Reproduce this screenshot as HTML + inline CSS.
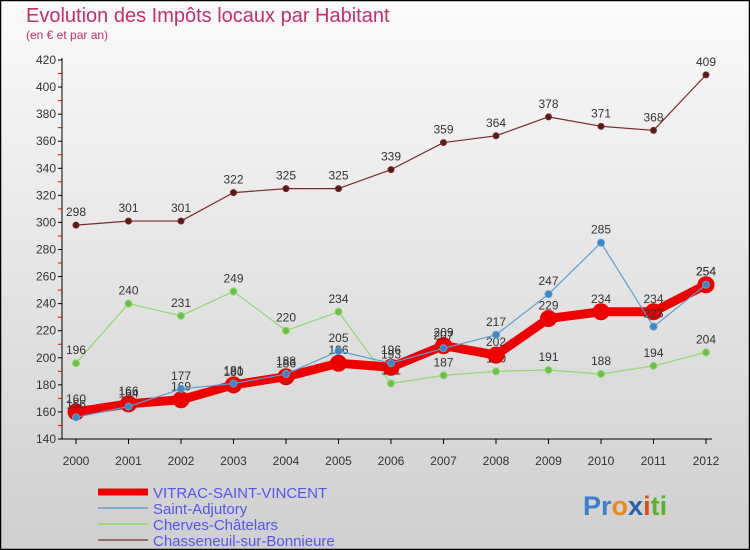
<!DOCTYPE html>
<html><head><meta charset="utf-8"><style>
body{margin:0;}
svg{display:block;font-family:"Liberation Sans",sans-serif;}
</style></head><body>
<svg id="chart" width="750" height="550" xmlns="http://www.w3.org/2000/svg">
<defs><linearGradient id="bg" x1="0" y1="0" x2="0" y2="1"><stop offset="0" stop-color="#fafafa"/><stop offset="1" stop-color="#cfcfcf"/></linearGradient></defs>
<rect x="0.5" y="0.5" width="749" height="549" fill="url(#bg)" stroke="#000" stroke-width="1.5"/>
<text x="26" y="22" font-size="20" fill="#c0306a">Evolution des Impôts locaux par Habitant</text>
<text x="26" y="39" font-size="12" fill="#c0306a">(en € et par an)</text>
<g id="axes"></g><g id="series"></g><g id="legend"></g>
<text x="583" y="515" font-size="27" font-weight="bold"><tspan fill="#3a7fd0">Pr</tspan><tspan fill="#e98a1c">o</tspan><tspan fill="#2a5fb0">x</tspan><tspan fill="#e04a1c">i</tspan><tspan fill="#5ab030">ti</tspan></text>
</svg>
<script>
const years=[2000,2001,2002,2003,2004,2005,2006,2007,2008,2009,2010,2011,2012];
const yTicks=[140,160,180,200,220,240,260,280,300,320,340,360,380,400,420];
const vitrac=[160,166,169,180,186,196,193,209,202,229,234,234,254];
const adjutory=[156,164,177,181,188,205,196,207,217,247,285,223,254];
const cherves=[196,240,231,249,220,234,181,187,190,191,188,194,204];
const chasseneuil=[298,301,301,322,325,325,339,359,364,378,371,368,409];
const NS="http://www.w3.org/2000/svg";
const x=i=>76+i*52.5;
const y=v=>439-(v-140)*(379/280);
function mk(tag,attrs,parent){const e=document.createElementNS(NS,tag);for(const k in attrs)e.setAttribute(k,attrs[k]);parent.appendChild(e);return e;}
const ax=document.getElementById('axes');
let l=mk('line',{x1:62,y1:58,x2:62,y2:439,stroke:'#000'},ax);


l=mk('line',{x1:62,y1:439,x2:712,y2:439,stroke:'#000'},ax);


yTicks.forEach((t,i)=>{
  mk('line',{x1:58,y1:y(t),x2:62,y2:y(t),stroke:'#000'},ax);
  if(i<yTicks.length-1) mk('line',{x1:58,y1:y(t+10),x2:62,y2:y(t+10),stroke:'#e00'},ax);
  const tx=mk('text',{x:56,y:y(t)+4,'font-size':12,'text-anchor':'end',fill:'#333'},ax);
  tx.textContent=t;
  
  
});
years.forEach((yr,i)=>{
  mk('line',{x1:x(i),y1:439,x2:x(i),y2:444,stroke:'#000'},ax);
  const tx=mk('text',{x:x(i),y:465,'font-size':12,'text-anchor':'middle',fill:'#333'},ax);
  tx.textContent=yr;
  
  
});
const sg=document.getElementById('series');
function series(data,color,w,r,name,dot){
  const g=mk('g',{},sg);
  
  
  mk('polyline',{points:data.map((v,i)=>x(i)+','+y(v)).join(' '),fill:'none',stroke:color,'stroke-width':w,'stroke-linejoin':'round'},g);
  data.forEach((v,i)=>{
    const c=mk('circle',{cx:x(i),cy:y(v),r:r,fill:dot,stroke:color,'stroke-width':1},g);
    
    
    const t=mk('text',{x:x(i),y:y(v)-9,'font-size':12,'text-anchor':'middle',fill:'#333'},g);
    t.textContent=v;
    
    
  });
}
series(chasseneuil,'#7a2a2a',1.2,3,'chasseneuil-series','#5a1a1a');
series(cherves,'#8fd870',1.2,3.5,'cherves-series','#6ac040');
series(vitrac,'#ee0000',9,8,'vitrac-series','#ee0000');
series(adjutory,'#5aa0d0',1.2,3.5,'adjutory-series','#3a88c8');
const lg=document.getElementById('legend');
[['VITRAC-SAINT-VINCENT','#ee0000',7],['Saint-Adjutory','#80aed0',2],['Cherves-Châtelars','#98d878',2],['Chasseneuil-sur-Bonnieure','#9a6a6a',2]].forEach((d,i)=>{
  const g=mk('g',{},lg);
  
  
  const yy=492+i*16;
  mk('line',{x1:98,y1:yy,x2:148,y2:yy,stroke:d[1],'stroke-width':d[2]},g);
  const t=mk('text',{x:153,y:yy+6,'font-size':15,fill:'#5555ee'},g);
  t.textContent=d[0];
});
</script>
</body></html>
